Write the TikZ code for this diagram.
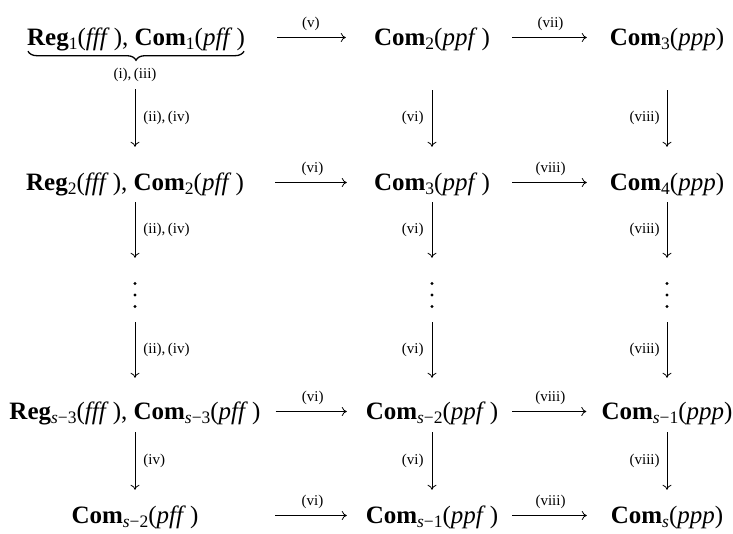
\documentclass[tikz,border=0pt]{standalone}
\usepackage{fontspec}
\setmainfont{Liberation Serif}
\usetikzlibrary{arrows.meta,decorations.pathreplacing}
\newcommand{\bsub}[2]{\textbf{#1}\raisebox{-4.5pt}{\fontsize{17.5}{20}\selectfont #2}}
\begin{document}
\begin{tikzpicture}[x=1pt,y=-1pt,
  obj/.style={inner sep=0pt, anchor=base, text height=20pt, text depth=5pt, font=\fontsize{25}{30}\selectfont},
  colA/.style={obj, minimum width=250pt},
  colB/.style={obj, minimum width=134pt},
  colC/.style={obj, minimum width=130pt},
  dotsbox/.style={inner sep=0pt, minimum width=4pt, minimum height=30pt},
  lbl/.style={inner sep=0pt, font=\fontsize{15}{18}\selectfont},
  arr/.style={-{To[length=5pt,width=9pt]}, line width=0.8pt},
  hA/.style={arr, shorten <=15pt, shorten >=18pt},
  hB/.style={arr, shorten <=13pt, shorten >=15pt},
  vA/.style={arr, shorten <=40pt, shorten >=23pt},
  vB/.style={arr, shorten <=7pt, shorten >=22pt},
  vC/.style={arr, shorten <=12pt, shorten >=21pt},
  vD/.style={arr, shorten <=8pt, shorten >=13pt},
]
\useasboundingbox (0,0) rectangle (733,533);

% row 1
\node[obj] (r1c1) at (136,45) {\bsub{Reg}{1}(\textit{fff}\,), \bsub{Com}{1}(\textit{pff}\,)};
\node[colB] (r1c2) at (432,45) {\bsub{Com}{2}(\textit{ppf}\,)};
\node[colC] (r1c3) at (667,45) {\bsub{Com}{3}(\textit{ppp})};
% row 2
\node[colA] (r2c1) at (135,190) {\bsub{Reg}{2}(\textit{fff}\,), \bsub{Com}{2}(\textit{pff}\,)};
\node[colB] (r2c2) at (432,190) {\bsub{Com}{3}(\textit{ppf}\,)};
\node[colC] (r2c3) at (667,190) {\bsub{Com}{4}(\textit{ppp})};
% dots
\node[dotsbox] (d1) at (135,295) {};
\node[dotsbox] (d2) at (432,295) {};
\node[dotsbox] (d3) at (667,295) {};
\foreach \d in {d1,d2,d3}{
  \fill ([yshift=11.5pt]\d.center) circle (1.6pt);
  \fill (\d.center) circle (1.6pt);
  \fill ([yshift=-11.5pt]\d.center) circle (1.6pt);
}
% row 4
\node[colA] (r4c1) at (135,419) {\bsub{Reg}{\textit{s}−3}(\textit{fff}\,), \bsub{Com}{\textit{s}−3}(\textit{pff}\,)};
\node[colB] (r4c2) at (432,419) {\bsub{Com}{\textit{s}−2}(\textit{ppf}\,)};
\node[colC] (r4c3) at (667,419) {\bsub{Com}{\textit{s}−1}(\textit{ppp})};
% row 5
\node[colA] (r5c1) at (135,523) {\bsub{Com}{\textit{s}−2}(\textit{pff}\,)};
\node[colB] (r5c2) at (432,523) {\bsub{Com}{\textit{s}−1}(\textit{ppf}\,)};
\node[colC] (r5c3) at (667,523) {\bsub{Com}{\textit{s}}(\textit{ppp})};

% underbrace
\draw[decorate, decoration={brace, mirror, amplitude=9pt}, line width=1.3pt]
  ([xshift=1pt,yshift=-1pt]r1c1.south west) -- ([xshift=-1pt,yshift=-1pt]r1c1.south east);
\node[lbl, anchor=base] (lb1) at (135,78) {(i),\,(iii)};

% horizontal arrows
\draw[arr, shorten <=32pt, shorten >=19pt] (r1c1.east) -- node[pos=0.55, above=6pt, lbl] (h11) {(v)} (r1c2.west);
\draw[hB] (r1c2.east) -- node[midway, above=6pt, lbl] (h12) {(vii)} (r1c3.west);
\draw[hA] (r2c1.east) -- node[midway, above=6pt, lbl] (h21) {(vi)} (r2c2.west);
\draw[hB] (r2c2.east) -- node[midway, above=6pt, lbl] (h22) {(viii)} (r2c3.west);
\draw[hA] (r4c1.east) -- node[midway, above=6pt, lbl] (h41) {(vi)} (r4c2.west);
\draw[hB] (r4c2.east) -- node[midway, above=6pt, lbl] (h42) {(viii)} (r4c3.west);
\draw[hA] (r5c1.east) -- node[midway, above=6pt, lbl] (h51) {(vi)} (r5c2.west);
\draw[hB] (r5c2.east) -- node[midway, above=6pt, lbl] (h52) {(viii)} (r5c3.west);

% vertical arrows, column 1
\draw[arr, shorten <=8pt, shorten >=23pt] (lb1.south) -- node[pos=0.415, right=8pt, lbl] (v11) {(ii),\,(iv)} (r2c1.north);
\draw[vB] (r2c1.south) -- node[pos=0.41, right=8pt, lbl] (v21) {(ii),\,(iv)} (d1.north);
\draw[vC] (d1.south) -- node[pos=0.45, right=8pt, lbl] (v31) {(ii),\,(iv)} (r4c1.north);
\draw[vD] (r4c1.south) -- node[pos=0.47, right=8pt, lbl] (v41) {(iv)} (r5c1.north);
% column 2
\draw[vA] (r1c2.south) -- node[pos=0.57, left=8pt, lbl] (v12) {(vi)} (r2c2.north);
\draw[vB] (r2c2.south) -- node[pos=0.41, left=8pt, lbl] (v22) {(vi)} (d2.north);
\draw[vC] (d2.south) -- node[pos=0.45, left=8pt, lbl] (v32) {(vi)} (r4c2.north);
\draw[vD] (r4c2.south) -- node[pos=0.47, left=8pt, lbl] (v42) {(vi)} (r5c2.north);
% column 3
\draw[vA] (r1c3.south) -- node[pos=0.57, left=7pt, lbl] (v13) {(viii)} (r2c3.north);
\draw[vB] (r2c3.south) -- node[pos=0.41, left=7pt, lbl] (v23) {(viii)} (d3.north);
\draw[vC] (d3.south) -- node[pos=0.45, left=7pt, lbl] (v33) {(viii)} (r4c3.north);
\draw[vD] (r4c3.south) -- node[pos=0.47, left=7pt, lbl] (v43) {(viii)} (r5c3.north);
\end{tikzpicture}
\end{document}
